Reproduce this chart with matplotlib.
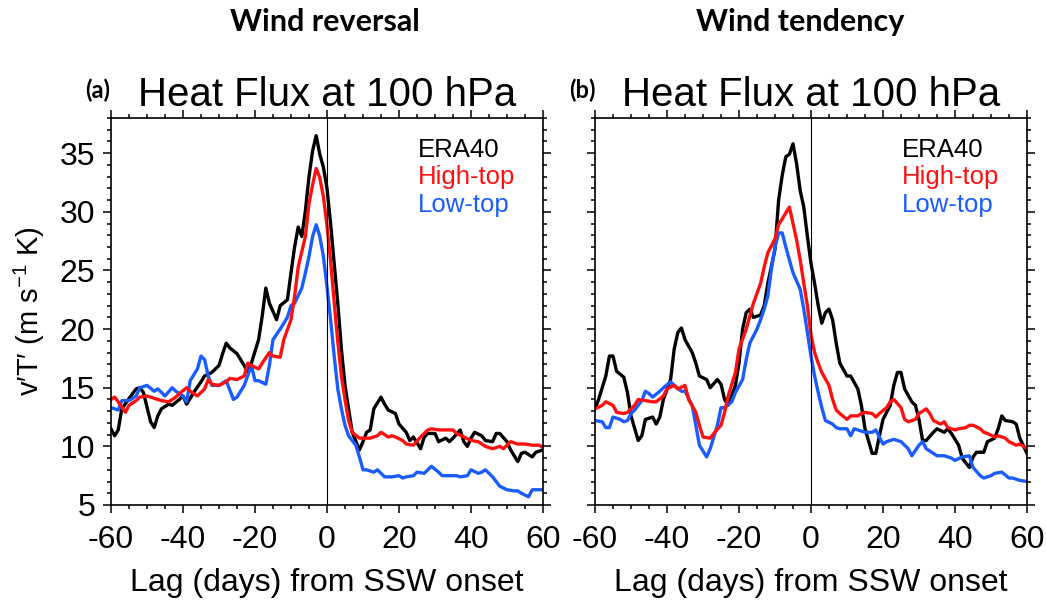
import matplotlib
matplotlib.use('Agg')
import matplotlib.pyplot as plt
from matplotlib import font_manager
from matplotlib.ticker import MultipleLocator

# Helvetica-like font for the NCL panels, a Calibri-like bold for the headers
names = set(f.name for f in font_manager.fontManager.ttflist)
sans = 'Liberation Sans' if 'Liberation Sans' in names else 'DejaVu Sans'
bold_font = 'Lato' if 'Lato' in names else 'DejaVu Sans'

plt.rcParams['font.family'] = sans
plt.rcParams['axes.unicode_minus'] = False
plt.rcParams['mathtext.fontset'] = 'custom'
plt.rcParams['mathtext.rm'] = sans
plt.rcParams['mathtext.default'] = 'regular'

# ---- data: (lag day, v'T' in m s-1 K) ----
era_a = [(-60,11.5),(-59,10.9),(-58,11.4),(-57,13.2),(-54,14.5),(-53,14.9),(-52,15.0),(-51,14.6),
         (-49,12.1),(-48,11.6),(-47,12.6),(-46,13.2),(-44,13.6),(-43,13.5),(-41,14.0),(-40,14.3),
         (-39,13.6),(-37,14.6),(-35,15.5),(-34,16.0),(-32,16.3),(-30,16.9),(-29,17.9),(-28,18.8),
         (-27,18.4),(-25,17.9),(-23,16.9),(-22,16.3),(-21,17.1),(-19,19.1),(-18,21.1),(-17,23.5),
         (-16,22.2),(-14,20.8),(-13,22.0),(-11,22.5),(-10,24.8),(-9,27.0),(-8,28.7),(-7,27.9),
         (-6,30.1),(-5,33.0),(-4,35.2),(-3,36.5),(-2,34.9),(-1,33.8),(0,32.0),(1,29.0),(2,25.6),
         (3,22.2),(4,18.3),(5,15.2),(6,13.2),(7,11.2),(9,9.7),(10,10.4),(11,11.2),(12,11.4),
         (13,13.2),(15,14.2),(16,13.6),(17,13.1),(19,12.8),(20,11.9),(22,11.2),(23,10.5),(24,10.8),
         (26,9.8),(27,10.8),(28,11.1),(30,11.1),(31,10.4),(33,10.7),(34,10.4),(35,10.7),(37,11.4),
         (38,10.4),(39,10.0),(40,10.7),(41,11.2),(43,10.9),(44,10.5),(46,10.4),(47,11.1),(48,11.1),
         (50,10.4),(51,9.7),(53,8.7),(54,9.4),(55,9.5),(57,9.1),(58,9.5),(60,9.7)]

high_a = [(-60,14.0),(-59,14.2),(-58,13.8),(-56,12.9),(-55,13.5),(-53,13.9),(-52,14.2),(-50,14.3),
          (-49,14.2),(-47,14.0),(-46,13.9),(-44,13.8),(-42,14.2),(-41,14.5),(-39,15.0),(-38,14.7),
          (-36,14.3),(-34,14.9),(-33,15.7),(-32,15.3),(-30,15.2),(-28,15.5),(-27,15.8),(-25,15.7),
          (-23,16.0),(-22,17.1),(-21,16.9),(-19,16.6),(-18,17.1),(-16,18.0),(-15,17.7),(-13,17.6),
          (-12,19.1),(-10,20.8),(-9,22.8),(-8,25.3),(-6,27.9),(-5,30.7),(-4,32.3),(-3,33.7),
          (-2,32.9),(-1,31.3),(0,28.8),(1,25.8),(2,22.3),(3,18.9),(4,16.0),(5,14.0),(6,12.2),
          (7,11.2),(9,10.7),(11,10.7),(12,10.7),(14,10.9),(15,11.2),(17,10.8),(18,10.9),(19,10.8),
          (21,10.5),(22,10.2),(24,10.1),(26,10.8),(28,11.4),(29,11.5),(31,11.4),(33,11.4),(35,11.4),
          (36,11.1),(38,10.8),(40,10.5),(42,10.4),(44,10.0),(46,9.8),(48,10.0),(49,9.8),(51,10.4),
          (53,10.2),(55,10.2),(57,10.1),(59,10.1),(60,9.9)]

low_a = [(-60,13.3),(-58,13.1),(-57,13.9),(-55,13.9),(-53,14.3),(-52,15.0),(-50,15.2),(-48,14.7),
         (-47,14.9),(-45,14.3),(-43,15.0),(-42,14.7),(-40,14.3),(-39,13.8),(-38,15.6),(-36,16.6),
         (-35,17.7),(-34,17.4),(-33,16.0),(-32,15.2),(-30,15.2),(-28,15.6),(-26,14.0),(-25,14.2),
         (-23,15.2),(-21,16.9),(-20,15.6),(-19,15.6),(-17,15.3),(-16,16.9),(-15,19.1),(-13,20.0),
         (-11,21.0),(-10,22.0),(-9,22.2),(-7,23.5),(-6,24.8),(-5,26.2),(-4,27.9),(-3,28.9),
         (-2,27.9),(-1,26.2),(0,23.6),(1,20.8),(2,17.7),(3,14.9),(4,13.2),(5,11.8),(6,10.9),
         (8,10.1),(9,9.1),(10,8.0),(11,8.0),(13,7.8),(14,8.0),(16,7.4),(17,7.4),(18,7.4),(20,7.5),
         (21,7.3),(22,7.4),(24,7.5),(25,7.8),(27,7.7),(28,8.0),(29,8.3),(31,7.8),(32,7.5),(34,7.5),
         (36,7.5),(37,7.4),(39,7.5),(40,8.0),(42,7.7),(43,7.8),(44,8.0),(46,7.4),(47,7.0),(48,6.6),
         (50,6.3),(52,6.2),(53,6.2),(54,6.0),(56,5.7),(57,6.3),(59,6.3),(60,6.3)]

era_b = [(-60,13.2),(-59,14.0),(-57,16.0),(-56,17.7),(-55,17.7),(-54,16.4),(-52,15.9),(-51,14.6),
         (-50,12.6),(-48,10.5),(-47,10.9),(-46,12.3),(-44,12.5),(-43,11.9),(-42,12.5),(-41,14.0),
         (-39,15.7),(-38,18.3),(-37,19.7),(-36,20.1),(-35,19.1),(-33,18.0),(-32,17.1),(-31,16.0),
         (-29,15.7),(-28,15.0),(-26,15.7),(-25,15.3),(-24,14.0),(-23,13.5),(-21,15.2),(-20,17.1),
         (-19,20.0),(-18,21.4),(-17,21.7),(-16,21.0),(-14,21.2),(-13,22.0),(-12,23.9),(-10,26.8),
         (-9,31.0),(-8,33.1),(-7,34.7),(-6,34.9),(-5,35.8),(-4,34.1),(-3,31.8),(-2,30.4),(-1,27.9),
         (0,25.6),(1,23.9),(2,22.0),(3,20.5),(4,21.4),(5,21.7),(6,20.8),(7,18.8),(8,17.1),(10,16.0),
         (11,16.0),(13,14.9),(14,13.5),(15,11.5),(17,9.4),(18,9.4),(19,10.9),(20,12.3),(22,13.5),
         (23,15.2),(24,16.3),(25,16.3),(26,14.9),(28,13.8),(29,13.5),(30,12.3),(31,10.5),(32,10.5),
         (34,11.2),(35,11.5),(37,11.2),(38,11.5),(39,11.1),(41,10.1),(42,9.0),(44,8.2),(45,9.1),
         (46,9.5),(48,9.5),(49,10.4),(51,10.7),(52,11.5),(53,12.6),(54,12.2),(56,12.1),(57,11.9),
         (58,10.7),(60,9.4)]

high_b = [(-60,13.2),(-58,13.5),(-57,13.8),(-55,13.5),(-54,12.9),(-52,12.8),(-51,12.9),(-49,13.5),
          (-48,14.0),(-46,13.9),(-44,13.8),(-43,13.8),(-41,14.3),(-40,14.9),(-38,15.2),(-37,14.9),
          (-35,15.2),(-34,14.0),(-32,12.9),(-31,11.8),(-30,10.8),(-28,10.7),(-27,11.1),(-25,11.8),
          (-24,12.9),(-23,14.3),(-21,16.3),(-20,18.3),(-18,20.0),(-17,21.1),(-16,22.2),(-14,23.9),
          (-13,25.3),(-12,26.5),(-10,27.7),(-9,28.9),(-7,29.9),(-6,30.4),(-5,29.0),(-4,27.6),
          (-3,25.9),(-2,23.9),(-1,22.0),(0,19.5),(1,18.0),(2,17.1),(3,16.3),(5,15.2),(6,14.0),
          (7,13.1),(8,12.8),(10,12.3),(11,12.6),(13,12.6),(14,12.8),(15,12.9),(17,12.8),(18,12.5),
          (19,12.8),(21,13.3),(22,13.8),(23,14.0),(25,13.3),(26,12.3),(27,12.1),(29,12.3),(30,12.8),
          (32,13.2),(33,12.8),(34,12.2),(36,11.9),(37,12.1),(38,11.6),(40,11.4),(41,11.5),(43,11.6),
          (44,11.8),(45,11.8),(47,11.5),(48,11.2),(49,11.1),(51,10.8),(52,10.9),(54,10.7),(55,10.4),
          (57,10.1),(58,10.2),(60,9.8)]

low_b = [(-60,12.2),(-58,12.1),(-57,11.6),(-56,11.6),(-55,12.5),(-53,12.3),(-52,12.1),(-51,12.2),
         (-50,12.8),(-49,13.1),(-47,13.9),(-46,14.7),(-45,14.5),(-44,14.2),(-42,14.7),(-41,15.0),
         (-39,15.5),(-38,15.2),(-36,14.7),(-35,14.7),(-33,13.5),(-32,11.8),(-31,10.1),(-29,9.1),
         (-28,9.8),(-26,11.8),(-25,13.3),(-24,13.3),(-22,13.8),(-21,14.6),(-19,15.7),(-18,17.4),
         (-17,18.8),(-15,20.0),(-14,20.8),(-13,21.7),(-12,22.8),(-11,25.1),(-10,27.0),(-9,28.2),
         (-8,28.2),(-7,27.0),(-6,25.9),(-5,24.8),(-3,23.4),(-2,21.7),(-1,19.7),(0,17.7),(1,16.0),
         (2,14.6),(3,13.3),(4,12.2),(6,11.9),(7,11.6),(8,11.5),(10,11.5),(11,10.9),(12,11.5),
         (13,11.4),(15,11.2),(17,11.2),(18,11.4),(20,10.2),(21,10.4),(23,10.6),(25,10.4),(27,9.8),
         (28,9.2),(30,10.1),(31,10.4),(32,9.8),(34,9.4),(35,9.2),(37,9.2),(39,9.0),(40,8.8),
         (42,9.1),(44,9.2),(45,8.2),(47,7.5),(48,7.3),(50,7.5),(51,7.7),(53,7.8),(55,7.3),(56,7.3),
         (58,7.1),(60,7.0)]

labels = ['ERA40', 'High-top', 'Low-top']
colors = ['black', '#ff1010', '#1a5cff']
headers = ['Wind reversal', 'Wind tendency']
tags = ['(a)', '(b)']
xticks = [-60, -40, -20, 0, 20, 40, 60]
yticks = [5, 10, 15, 20, 25, 30, 35]

W, H = 1046, 606
fig = plt.figure(figsize=(W/100, H/100), dpi=100)

ax_a = fig.add_axes([111/W, 1-505/H, 432/W, 387/H])
ax_b = fig.add_axes([595/W, 1-505/H, 432/W, 387/H])

panels = [(ax_a, [era_a, high_a, low_a]), (ax_b, [era_b, high_b, low_b])]

for i, (ax, series) in enumerate(panels):
    # draw order: black, blue, red on top
    for k in [0, 2, 1]:
        x, y = zip(*series[k])
        ax.plot(x, y, color=colors[k], lw=2.4, solid_joinstyle='round')
    ax.axvline(0, color='k', lw=0.8)

    ax.set_xlim(-60, 60)
    ax.set_ylim(5, 38)
    ax.set_xticks(xticks)
    ax.set_yticks(yticks)
    ax.xaxis.set_minor_locator(MultipleLocator(5))
    ax.yaxis.set_minor_locator(MultipleLocator(1))
    ax.tick_params(which='both', direction='out', top=True, right=True, width=1.1)
    ax.tick_params(which='major', length=5.5, labelsize=23)
    ax.tick_params(which='minor', length=3)
    ax.tick_params(axis='x', which='major', pad=9)
    ax.tick_params(axis='y', which='major', pad=6)
    for s in ax.spines.values():
        s.set_linewidth(1.2)
    if i == 1:
        ax.tick_params(labelleft=False)

    ax.set_title('Heat Flux at 100 hPa', fontsize=29, pad=9)
    ax.set_xlabel('Lag (days) from SSW onset', fontsize=23, va='center')
    ax.xaxis.set_label_coords(0.5, -0.202)

    for k, yy in enumerate([0.899, 0.829, 0.757]):
        ax.text(0.711, yy, labels[k], color=colors[k], transform=ax.transAxes,
                fontsize=18.5, va='baseline', ha='left')

ax_a.set_ylabel("v\u2032T\u2032 (m s$^{-1}$ K)", fontsize=21, va='center')
ax_a.yaxis.set_label_coords(-0.188, 0.5)

fig.text(325/W, 1-22/H, headers[0], fontsize=22, fontweight='bold', family=bold_font,
         ha='center', va='center')
fig.text(800/W, 1-22/H, headers[1], fontsize=22, fontweight='bold', family=bold_font,
         ha='center', va='center')
fig.text(98/W, 1-90/H, tags[0], fontsize=17, fontweight='bold', family=bold_font,
         ha='center', va='center')
fig.text(582/W, 1-90/H, tags[1], fontsize=17, fontweight='bold', family=bold_font,
         ha='center', va='center')

fig.savefig('out.png', dpi=100)
